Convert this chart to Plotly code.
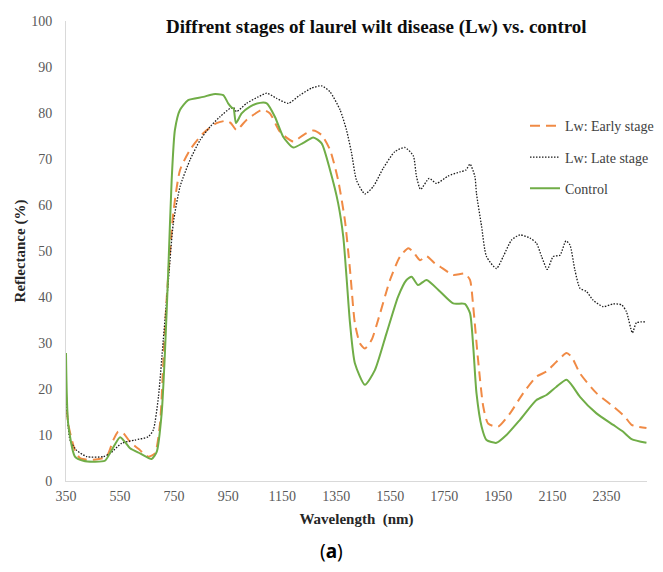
import plotly.graph_objects as go

# ---------------- data ----------------
wl_early = [350,358,383,403,451,500,525,543,562,587,624,654,679,698,710,723,747,772,809,858,
            907,944,960,981,1018,1068,1080,1105,1142,1191,1228,1265,1296,1327,1357,1382,1401,1419,1438,1456,
            1481,1512,1549,1586,1617,1635,1660,1684,1715,1734,1783,1826,1845,1857,1875,1894,1912,1949,1993,2042,
            2091,2128,2165,2202,2221,2252,2313,2375,2418,2443,2498]
refl_early = [19.0,12.5,6.7,4.9,4.6,5.3,8.9,10.7,10.4,8.5,6.7,5.3,6.0,12.5,25.6,40.1,58.2,67.6,72.0,75.6,
              77.8,78.3,77.8,76.3,78.5,80.5,80.7,79.9,75.9,73.8,75.2,76.2,75.2,72.0,65.4,56.7,45.9,34.3,29.9,28.8,
              30.7,36.4,43.7,48.8,50.6,49.8,48.0,48.9,47.3,46.6,44.8,45.1,43.7,37.9,26.3,16.2,12.5,11.8,14.7,19.1,
              22.7,23.8,25.9,27.8,27.0,23.4,19.1,16.2,14.0,12.2,11.5]

wl_late = [350,365,389,427,488,513,556,605,654,673,692,710,729,747,772,809,846,883,920,957,
           970,981,1018,1061,1093,1129,1172,1216,1259,1296,1327,1364,1388,1407,1425,1456,1487,1524,1567,1604,
           1635,1647,1662,1694,1721,1764,1808,1830,1845,1863,1869,1888,1906,1943,1968,1999,2030,2067,2091,2110,
           2131,2153,2178,2200,2215,2233,2252,2276,2301,2338,2375,2406,2424,2446,2461,2498]
refl_late = [20.1,8.9,6.7,5.3,5.3,6.0,8.2,8.9,9.6,11.1,18.3,30.7,43.7,56.0,64.0,69.8,74.1,77.0,79.2,81.0,
             81.2,80.3,82.1,83.5,84.3,83.2,82.1,83.9,85.4,85.9,84.6,80.7,76.3,71.2,65.4,62.4,64.0,68.0,71.6,72.5,
             70.7,66.2,63.4,65.8,64.7,66.3,67.2,67.6,68.9,66.2,62.5,55.3,48.8,46.2,48.8,52.4,53.5,52.8,51.7,48.8,
             46.0,48.8,49.1,52.2,51.3,45.9,41.9,41.2,39.3,37.9,38.5,38.3,36.8,32.2,34.4,34.6]

wl_control = [350,358,383,414,451,494,519,550,568,587,624,667,686,704,716,729,741,753,772,802,
              858,895,932,950,963,970,979,1000,1031,1068,1093,1123,1154,1191,1228,1265,1296,1327,1357,1376,
              1388,1401,1419,1456,1493,1536,1579,1610,1629,1653,1684,1734,1783,1826,1845,1857,1869,1888,1906,1943,
              1980,2030,2091,2128,2165,2202,2221,2252,2313,2375,2412,2443,2498]
refl_control = [27.8,12.5,5.3,4.4,4.2,4.4,6.7,9.5,8.5,7.1,6.0,4.8,6.4,14.7,27.8,46.6,65.4,76.3,80.7,82.8,
                83.5,84.1,83.9,82.1,81.2,81.0,77.8,79.9,81.4,82.2,82.1,79.2,74.8,72.5,73.5,74.7,73.4,67.6,60.4,53.1,
                44.4,34.3,25.6,20.9,24.1,32.1,40.1,43.7,44.4,42.6,43.7,41.2,38.6,38.5,36.5,29.2,19.1,11.8,8.9,8.3,
                10.0,13.3,17.6,18.7,20.5,22.0,20.9,18.3,14.7,12.2,10.7,9.1,8.3]

x_ticks = [350, 550, 750, 950, 1150, 1350, 1550, 1750, 1950, 2150, 2350]
y_ticks = [0, 10, 20, 30, 40, 50, 60, 70, 80, 90, 100]

SERIF = "Liberation Serif"
TICK_COLOR = "#595959"

fig = go.Figure()
fig.add_trace(go.Scatter(x=wl_early, y=refl_early, mode="lines", name="Lw: Early stage",
                         legendgroup="a", line=dict(color="#F08A45", width=2, dash="10px,6px",
                                                    shape="spline", smoothing=0.6)))
fig.add_trace(go.Scatter(x=wl_late, y=refl_late, mode="lines", name="Lw: Late stage",
                         legendgroup="b", line=dict(color="#1a1a1a", width=1.3, dash="1.5px,1.5px",
                                                    shape="spline", smoothing=0.6)))
fig.add_trace(go.Scatter(x=wl_control, y=refl_control, mode="lines", name="Control",
                         legendgroup="c", line=dict(color="#70AD47", width=2,
                                                    shape="spline", smoothing=0.6)))

# the page body adds an 8px offset at left/top, so the figure is 8px smaller there
fig.update_layout(
    width=655, height=564,
    margin=dict(l=58, r=16, t=13, b=91, autoexpand=False),
    paper_bgcolor="white", plot_bgcolor="white",
    font=dict(family=SERIF, color=TICK_COLOR),
    showlegend=True,
    legend=dict(x=0.79, y=0.806, xanchor="left", yanchor="top",
                font=dict(family=SERIF, size=14, color="#404040"),
                traceorder="grouped", tracegroupgap=10, bgcolor="rgba(0,0,0,0)"),
    xaxis=dict(range=[350, 2500], tickmode="array", tickvals=x_ticks,
               ticktext=[str(v) for v in x_ticks], automargin=False,
               showgrid=False, zeroline=False, showline=True, linecolor="#D9D9D9", linewidth=1,
               ticks="outside", ticklen=2, tickcolor="rgba(0,0,0,0)",
               tickfont=dict(family=SERIF, size=14, color=TICK_COLOR),
               title=dict(text="<b>Wavelength  (nm)</b>", standoff=10,
                          font=dict(family=SERIF, size=15, color="#262626"))),
    yaxis=dict(range=[0, 100], tickmode="array", tickvals=y_ticks, automargin=False,
               showgrid=False, zeroline=False, showline=True, linecolor="#D9D9D9", linewidth=1,
               ticks="outside", ticklen=10, tickcolor="rgba(0,0,0,0)",
               tickfont=dict(family=SERIF, size=14, color=TICK_COLOR),
               title=dict(text="<b>Reflectance (%)</b>", standoff=1,
                          font=dict(family=SERIF, size=15, color="#262626"))),
    annotations=[
        dict(text="<b>Diffrent stages of laurel wilt disease (Lw) vs. control</b>",
             xref="paper", yref="paper", x=(376 - 66) / 581, y=(481 - 27) / 460,
             xanchor="center", yanchor="middle", showarrow=False,
             font=dict(family=SERIF, size=19, color="#0d0d0d")),
        dict(text="(<b>a</b>)", xref="paper", yref="paper",
             x=(331 - 66) / 581, y=(481 - 551) / 460, xanchor="center", yanchor="middle",
             showarrow=False, font=dict(family="Noto Sans", size=19, color="#000000")),
    ],
)

fig.write_html("out.html")
